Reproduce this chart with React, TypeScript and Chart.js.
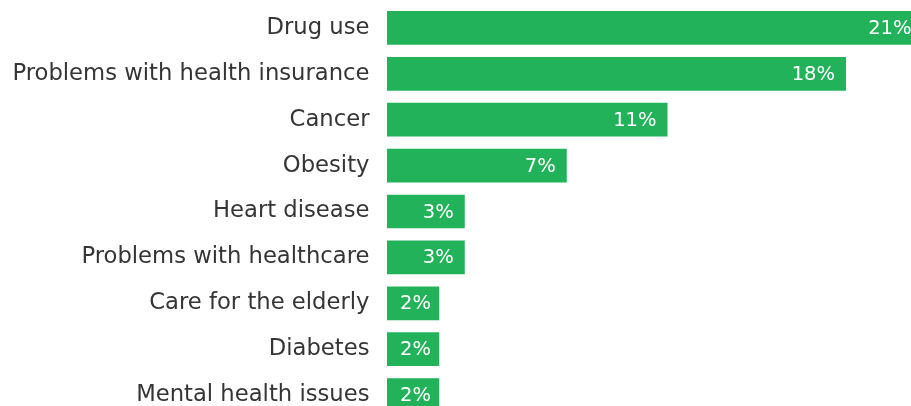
import React, { useEffect, useRef } from "react";
import { Chart, registerables } from "chart.js";

Chart.register(...registerables);

const categories = [
  "Drug use",
  "Problems with health insurance",
  "Cancer",
  "Obesity",
  "Heart disease",
  "Problems with healthcare",
  "Care for the elderly",
  "Diabetes",
  "Mental health issues",
];
const values = [21, 18, 11, 7.05, 3.05, 3.05, 2.05, 2.05, 2.05];
const valueLabels = ["21%", "18%", "11%", "7%", "3%", "3%", "2%", "2%", "2%"];

const FONT = "'DejaVu Sans', sans-serif";
const BAR = "#22b25a";

const valueLabelPlugin = {
  id: "valueLabels",
  afterDatasetsDraw(chart: any) {
    const ctx = chart.ctx;
    const meta = chart.getDatasetMeta(0);
    ctx.save();
    ctx.font = `19.5px ${FONT}`;
    ctx.fillStyle = "#ffffff";
    ctx.textAlign = "left";
    ctx.textBaseline = "middle";
    meta.data.forEach((bar: any, i: number) => {
      const txt = valueLabels[i];
      const w = ctx.measureText(txt).width;
      let left = bar.x - 11 - w;
      if (left < bar.base + 13) left = bar.base + 13;
      ctx.fillText(txt, left, bar.y + 1);
    });
    ctx.restore();
  },
};

export default function App() {
  const ref = useRef<HTMLCanvasElement>(null);
  useEffect(() => {
    const chart = new Chart(ref.current!, {
      type: "bar",
      data: {
        labels: categories,
        datasets: [
          {
            data: values,
            backgroundColor: BAR,
            borderWidth: 0,
            categoryPercentage: 1,
            barPercentage: 0.735,
          },
        ],
      },
      options: {
        indexAxis: "y",
        animation: false,
        responsive: false,
        devicePixelRatio: 1,
        layout: { autoPadding: false, padding: { top: 5, right: 0, bottom: 0, left: 0 } },
        plugins: { legend: { display: false }, tooltip: { enabled: false } },
        scales: {
          x: { display: false, min: 0, max: 22 },
          y: {
            grid: { display: false, drawTicks: false },
            border: { display: false },
            ticks: {
              padding: 17.5,
              color: "#353535",
              font: { family: FONT, size: 22.7 },
            },
            afterFit(scale: any) {
              scale.width = 387;
              scale.paddingTop = 0;
              scale.paddingBottom = 0;
            },
          },
        },
      },
      plugins: [valueLabelPlugin],
    });
    return () => chart.destroy();
  }, []);
  return (
    <div
      style={{
        position: "fixed",
        left: 0,
        top: 0,
        width: 911,
        height: 406,
        overflow: "hidden",
        background: "#fff",
      }}
    >
      <canvas ref={ref} width={948} height={418} style={{ display: "block" }} />
    </div>
  );
}
